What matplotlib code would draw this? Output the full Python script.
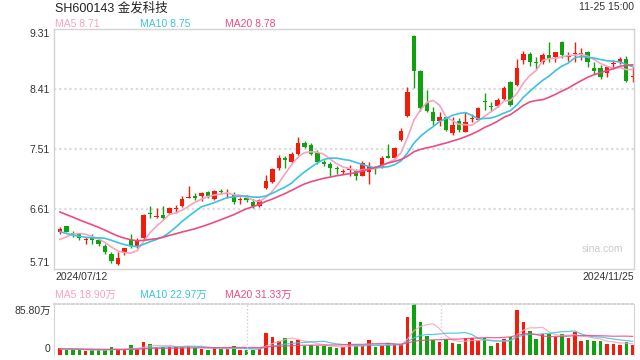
import matplotlib
matplotlib.use('Agg')
import matplotlib.pyplot as plt
import numpy as np
import pandas as pd

plt.rcParams['font.family'] = ['Liberation Sans', 'Noto Sans CJK SC']

# daily candles 2024/07/12 .. 2024/11/25
open_ = [6.26, 6.35, 6.25, 6.23, 6.15, 6.18, 6.15, 6.06, 5.94, 5.79,
         5.95, 6.15, 6.05, 6.18, 6.55, 6.49, 6.52, 6.55, 6.61, 6.65,
         6.77, 6.81, 6.81, 6.86, 6.76, 6.88, 6.84, 6.82, 6.75, 6.77,
         6.71, 6.66, 6.93, 7.02, 7.22, 7.38, 7.31, 7.43, 7.60, 7.57,
         7.45, 7.31, 7.29, 7.22, 7.165, 7.19, 7.19, 7.11, 7.17, 7.24,
         7.24, 7.40, 7.37, 7.65, 8.01, 9.21, 8.675, 8.20, 8.06, 7.935,
         7.985, 7.75, 7.925, 7.77, 7.955, 7.95, 8.225, 8.155, 8.15, 8.26,
         8.51, 8.475, 8.85, 8.935, 8.815, 8.81, 8.92, 8.885, 9.11, 8.895,
         8.94, 8.93, 8.96, 8.72, 8.72, 8.645, 8.78, 8.81, 8.86, 8.59]
close = [6.31, 6.27, 6.24, 6.17, 6.16, 6.15, 6.09, 5.96, 5.83, 5.88,
         6.02, 6.05, 6.15, 6.52, 6.54, 6.50, 6.47, 6.62, 6.62, 6.76,
         6.79, 6.77, 6.85, 6.81, 6.88, 6.87, 6.85, 6.71, 6.76, 6.74,
         6.65, 6.75, 7.03, 7.21, 7.37, 7.34, 7.43, 7.60, 7.54, 7.43,
         7.31, 7.28, 7.22, 7.21, 7.175, 7.20, 7.11, 7.30, 7.25, 7.23,
         7.37, 7.38, 7.52, 7.775, 8.36, 8.685, 8.13, 8.085, 7.93, 7.995,
         7.80, 7.87, 7.80, 7.91, 7.96, 8.12, 8.215, 8.145, 8.245, 8.425,
         8.17, 8.72, 8.935, 8.81, 8.805, 8.92, 8.86, 8.96, 8.92, 8.90,
         8.945, 8.935, 8.81, 8.675, 8.595, 8.735, 8.785, 8.86, 8.535, 8.595]
high = [6.34, 6.36, 6.28, 6.24, 6.19, 6.23, 6.17, 6.08, 5.96, 5.96,
        6.03, 6.23, 6.17, 6.53, 6.66, 6.63, 6.65, 6.64, 6.67, 6.81,
        6.95, 6.85, 6.86, 6.88, 6.90, 6.91, 6.91, 6.87, 6.79, 6.82,
        6.76, 6.76, 7.12, 7.23, 7.42, 7.41, 7.47, 7.69, 7.63, 7.60,
        7.49, 7.35, 7.32, 7.26, 7.21, 7.27, 7.21, 7.33, 7.32, 7.26,
        7.41, 7.59, 7.54, 7.825, 8.445, 9.22, 8.69, 8.395, 8.135, 8.06,
        8.01, 7.985, 7.97, 8.06, 8.035, 8.135, 8.35, 8.21, 8.27, 8.45,
        8.535, 8.86, 8.985, 8.97, 8.885, 8.95, 9.11, 8.97, 9.135, 8.96,
        9.11, 9.02, 8.985, 8.82, 8.77, 8.76, 8.85, 8.895, 8.91, 8.735]
low = [6.24, 6.26, 6.19, 6.14, 6.09, 6.09, 6.05, 5.94, 5.80, 5.77,
       5.92, 6.03, 6.03, 6.15, 6.48, 6.47, 6.46, 6.53, 6.55, 6.64,
       6.77, 6.75, 6.73, 6.78, 6.74, 6.84, 6.78, 6.69, 6.69, 6.71,
       6.62, 6.64, 6.91, 7.00, 7.19, 7.22, 7.30, 7.42, 7.53, 7.42,
       7.28, 7.25, 7.10, 7.13, 7.13, 7.11, 7.04, 7.10, 6.98, 7.14,
       7.22, 7.37, 7.36, 7.635, 7.995, 8.42, 8.085, 8.07, 7.87, 7.86,
       7.785, 7.72, 7.77, 7.76, 7.91, 7.935, 8.10, 8.085, 8.135, 8.25,
       8.16, 8.46, 8.785, 8.75, 8.71, 8.785, 8.81, 8.81, 8.87, 8.835,
       8.82, 8.85, 8.735, 8.635, 8.56, 8.585, 8.71, 8.785, 8.52, 8.51]
# volume in 万 shares
volume = [11.3, 8.5, 8.5, 8.5, 6.8, 8.5, 8.5, 8.5, 13.0, 8.5,
          8.5, 16.4, 10.2, 22.0, 18.6, 13.0, 14.1, 13.0, 13.0, 13.0,
          15.2, 12.4, 10.2, 8.5, 11.8, 10.7, 10.7, 14.7, 8.5, 8.5,
          9.0, 10.7, 37.8, 29.9, 23.7, 28.2, 23.7, 25.4, 15.2, 16.4,
          15.2, 15.2, 13.0, 11.3, 13.0, 22.0, 15.8, 15.2, 25.4, 13.0,
          15.2, 19.7, 16.9, 18.6, 63.2, 85.8, 55.3, 32.1, 25.4, 22.6,
          26.5, 20.9, 18.6, 28.2, 28.2, 25.4, 28.2, 15.2, 20.9, 26.5,
          31.0, 75.0, 55.3, 40.6, 27.0, 35.5, 35.5, 31.0, 35.5, 29.3,
          39.5, 23.7, 25.4, 23.7, 23.7, 18.6, 18.6, 16.9, 22.6, 16.9]
# sessions before the window, only used to seed the moving averages
prev_close = [7.05, 7.00, 6.98, 6.92, 6.88, 6.85, 6.80, 6.76, 6.72, 6.64,
              6.55, 6.45, 6.38, 6.30, 6.245, 6.08, 6.03, 6.13, 6.225]
prev_volume = [12, 10, 11, 9, 13, 10, 9, 11, 10, 12,
               9, 10, 11, 9, 10, 12, 9, 11, 10]

price_ticks = [9.31, 8.41, 7.51, 6.61, 5.71]

RED = '#f21c0c'
GREEN = '#10a010'
C5, C10, C20 = '#f7a3c1', '#3cc3de', '#ec4c84'
GRID = '#dcdcdc'
TXT = '#333333'

W, H = 640, 360
fig = plt.figure(figsize=(6.4, 3.6), dpi=100)


def box(l, t, r, b):
    return [l / W, 1 - b / H, (r - l) / W, (b - t) / H]


def ftext(px, py, s, **kw):
    fig.text(px / W, 1 - py / H, s, **kw)


o = np.array(open_)
c = np.array(close)
x = np.arange(len(c))
cols = np.where(c >= o, RED, GREEN)
n0 = len(prev_close)

ax = fig.add_axes(box(54, 29, 634, 269))
xlim = (-0.93, 89.2)

ax.vlines(x, low, high, colors=cols, lw=1)
ax.bar(x, np.maximum(np.abs(c - o), 0.016), bottom=np.minimum(o, c),
       width=0.68, color=cols, lw=0)

allc = pd.Series(prev_close + close)
for win, col in [(5, C5), (10, C10), (20, C20)]:
    ax.plot(x, allc.rolling(win).mean().to_numpy()[n0:], color=col, lw=1.2)

for v in price_ticks[1:-1]:
    ax.axhline(v, color=GRID, lw=1.6, ls=(0, (1, 1.3)), zorder=0)
ax.set_xlim(*xlim)
ax.set_ylim(5.71, 9.31)
ax.set_xticks([])
ax.set_yticks([])
for s in ax.spines.values():
    s.set_color('#d4d4d4')
    s.set_linewidth(1)

# volume panel
vax = fig.add_axes(box(54, 304, 634, 355))
vax.bar(x, volume, width=0.55, color=cols, lw=0)
allv = pd.Series(prev_volume + volume)
for win, col in [(5, C5), (10, C10), (20, C20)]:
    vax.plot(x, allv.rolling(win).mean().to_numpy()[n0:], color=col,
             lw=0.9, alpha=0.85)
for f in (1 / 3, 2 / 3):
    vax.plot([f, f], [0, 1], transform=vax.transAxes, color='#cfcfcf',
             lw=1, ls=(0, (1, 1.5)))
vax.set_xlim(*xlim)
vax.set_ylim(0, 85.8)
vax.set_xticks([])
vax.set_yticks([])
vax.spines['bottom'].set_visible(False)
vax.spines['top'].set_linestyle((0, (1, 1.3)))
vax.spines['top'].set_linewidth(1.4)
for s in vax.spines.values():
    s.set_color('#d4d4d4')

# texts
ftext(55, 8, 'SH600143 金发科技', fontsize=9, color='#222222', va='center')
ftext(634, 7, '11-25 15:00', fontsize=7.5, color=TXT, va='center', ha='right')
ftext(55, 24, 'MA5 8.71', fontsize=7.5, color=C5, va='center')
ftext(140, 24, 'MA10 8.75', fontsize=7.5, color=C10, va='center')
ftext(225, 24, 'MA20 8.78', fontsize=7.5, color=C20, va='center')

ypos = [34, 90, 150, 210, 263]
for v, py in zip(price_ticks, ypos):
    ftext(50, py, f'{v:.2f}', fontsize=7.5, color=TXT, va='center', ha='right')

ftext(55, 277, '2024/07/12', fontsize=7.5, color=TXT, va='center')
ftext(634, 277, '2024/11/25', fontsize=7.5, color=TXT, va='center', ha='right')
ftext(582, 249, 'sina.com', fontsize=7.5, color='#cccccc', va='center')

ftext(55, 295, 'MA5 18.90万', fontsize=7.5, color=C5, va='center')
ftext(140, 295, 'MA10 22.97万', fontsize=7.5, color=C10, va='center')
ftext(225, 295, 'MA20 31.33万', fontsize=7.5, color=C20, va='center')
ftext(51, 311, '85.80万', fontsize=7.5, color=TXT, va='center', ha='right')
ftext(50, 349, '0', fontsize=7.5, color=TXT, va='center', ha='right')

fig.savefig('out.png', dpi=100)
